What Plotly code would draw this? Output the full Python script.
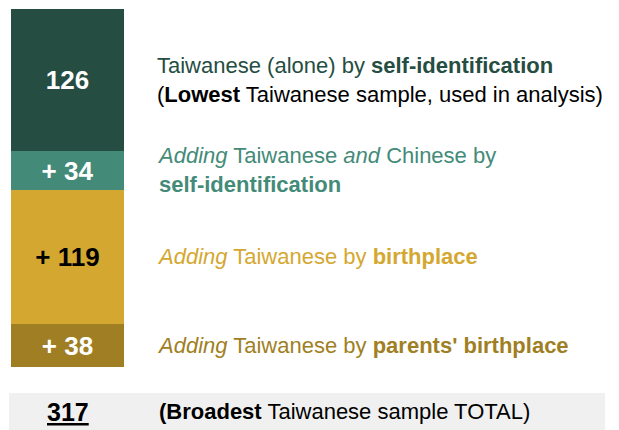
import plotly.graph_objects as go

# Data (top to bottom)
segments = ["Self-ID alone", "Self-ID Taiwanese and Chinese", "Birthplace", "Parents' birthplace"]
values = [126, 34, 119, 38]
bar_labels = ["126", "+ 34", "+ 119", "+ 38"]
total = 317
colors = ["#254d42", "#438b78", "#d4a830", "#a07f24"]
label_colors = ["white", "white", "black", "white"]
descriptions = [
    "<span style='color:#254d42'>Taiwanese (alone) by <b>self-identification</b></span><br>(<b>Lowest</b> Taiwanese sample, used in analysis)",
    "<span style='color:#438b78'><i>Adding</i> Taiwanese <i>and</i> Chinese by<br><b>self-identification</b></span>",
    "<span style='color:#d4a830'><i>Adding</i> Taiwanese by <b>birthplace</b></span>",
    "<span style='color:#a07f24'><i>Adding</i> Taiwanese by <b>parents' birthplace</b></span>",
]
total_text = "<b>(Broadest</b> Taiwanese sample TOTAL)"

FONT = "Liberation Sans, Arial, sans-serif"
OFF = 8  # page body margin
W, H = 619 - OFF, 430 - OFF
BAR_X, BAR_W = 67.5 - OFF, 113

fig = go.Figure()
order = list(range(len(values)))[::-1]
for i in order:
    fig.add_trace(go.Bar(
        x=[BAR_X], y=[values[i]], width=[BAR_W],
        marker=dict(color=colors[i], line=dict(width=0)),
        text=[f"<b>{bar_labels[i]}</b>"], textposition="inside",
        insidetextanchor="middle", textangle=0,
        textfont=dict(family=FONT, size=26, color=label_colors[i]),
        hoverinfo="skip", showlegend=False, name=segments[i],
        cliponaxis=False,
    ))

cum = total
for i, v in enumerate(values):
    center = cum - v / 2
    cum -= v
    fig.add_annotation(
        x=155 - OFF, y=center, xref="x", yref="y", xanchor="left", yanchor="middle",
        text=descriptions[i], showarrow=False, align="left",
        font=dict(family=FONT, size=22, color="black"),
    )

area_top, area_bot = 0, 367 - OFF
px_per_unit = (367 - 7) / total
y_top = total + (1 / px_per_unit)

def py(fig_px):
    return (area_bot - fig_px) / (area_bot - area_top)

fig.add_shape(type="rect", xref="x", yref="paper", x0=9 - OFF, x1=605 - OFF,
              y0=py(430 - OFF), y1=py(393 - OFF),
              fillcolor="#f0f0f0", line=dict(width=0), layer="below")
fig.add_annotation(x=BAR_X, y=py(412 - OFF), xref="x", yref="paper", xanchor="center", yanchor="middle",
                   text=f"<b><u>{total}</u></b>", showarrow=False,
                   font=dict(family=FONT, size=25, color="black"))
fig.add_annotation(x=157 - OFF, y=py(412 - OFF), xref="x", yref="paper", xanchor="left", yanchor="middle",
                   text=total_text, showarrow=False,
                   font=dict(family=FONT, size=22, color="black"))

fig.update_layout(
    width=W, height=H, barmode="stack",
    margin=dict(l=0, r=0, t=area_top, b=H - area_bot, pad=0),
    paper_bgcolor="white", plot_bgcolor="white",
    xaxis=dict(range=[0, W], visible=False, fixedrange=True),
    yaxis=dict(range=[0, y_top], visible=False, fixedrange=True),
    bargap=0,
)
fig.write_html("out.html")
